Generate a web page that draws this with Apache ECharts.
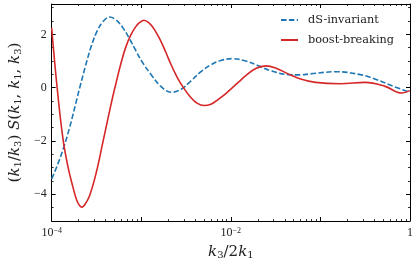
<!DOCTYPE html>
<html><head><meta charset="utf-8">
<script src="https://cdn.jsdelivr.net/npm/echarts@6/dist/echarts.min.js"></script>
<style>html,body{margin:0;padding:0;background:#fff}#c{width:418px;height:267px}</style>
</head><body><div id="c"></div>
<script>
// dS-invariant (blue dashed)
const dsX = [1.0e-4, 1.166e-4, 1.359e-4, 1.585e-4, 1.848e-4, 2.101e-4, 2.387e-4, 2.783e-4, 3.245e-4, 3.783e-4, 4.41e-4,
  5.142e-4, 6.151e-4, 7.356e-4, 8.73e-4, 1.0e-3, 1.29e-3, 1.668e-3, 2.154e-3, 2.783e-3, 3.594e-3, 4.642e-3, 5.995e-3, 7.743e-3,
  1.045e-2, 1.468e-2, 2.047e-2, 2.783e-2, 4.41e-2, 5.995e-2, 7.743e-2, 0.153, 0.278, 0.427, 0.652, 1.0];
const dsY = [-3.42, -2.88, -2.25, -1.5, -0.62, 0.12, 0.82, 1.58, 2.15, 2.5, 2.65,
  2.56, 2.28, 1.85, 1.38, 1.02, 0.49, 0.04, -0.17, -0.06, 0.26, 0.6, 0.86, 1.02,
  1.09, 1.0, 0.82, 0.64, 0.49, 0.48, 0.52, 0.6, 0.49, 0.3, 0.05, -0.17];
// boost-breaking (red solid)
const bbX = [1.0e-4, 1.151e-4, 1.335e-4, 1.517e-4, 1.725e-4, 1.896e-4, 2.047e-4, 2.183e-4, 2.326e-4, 2.643e-4, 3.138e-4,
  3.715e-4, 4.222e-4, 4.798e-4, 5.234e-4, 5.95e-4, 6.761e-4, 7.685e-4, 8.732e-4, 9.624e-4, 1.072e-3, 1.227e-3, 1.394e-3,
  1.668e-3, 1.896e-3, 2.154e-3, 2.512e-3, 2.929e-3, 3.594e-3, 4.19e-3, 5.012e-3, 5.995e-3, 7.168e-3, 8.577e-3, 1.0e-2,
  1.227e-2, 1.468e-2, 1.896e-2, 2.448e-2, 3.162e-2, 4.41e-2, 5.995e-2, 8.799e-2, 0.1668, 0.3162, 0.5275, 0.8087, 1.0];
const bbY = [2.25, 0.0, -1.9, -2.95, -3.72, -4.2, -4.42, -4.48, -4.4, -4.06, -3.2,
  -2.07, -1.2, -0.35, 0.18, 0.93, 1.55, 1.99, 2.3, 2.45, 2.53, 2.42, 2.2,
  1.72, 1.3, 0.86, 0.4, 0.02, -0.38, -0.58, -0.67, -0.62, -0.45, -0.25, -0.05,
  0.22, 0.45, 0.72, 0.82, 0.74, 0.51, 0.33, 0.2, 0.15, 0.2, 0.05, -0.2, -0.11];

const seriesNames = ['dS-invariant', 'boost-breaking'];
const xMajorTicks = [1e-4, 1e-3, 1e-2, 1e-1, 1];
const xMinorTicks = [2e-4, 3e-4, 4e-4, 5e-4, 6e-4, 7e-4, 8e-4, 9e-4,
  2e-3, 3e-3, 4e-3, 5e-3, 6e-3, 7e-3, 8e-3, 9e-3,
  2e-2, 3e-2, 4e-2, 5e-2, 6e-2, 7e-2, 8e-2, 9e-2,
  0.2, 0.3, 0.4, 0.5, 0.6, 0.7, 0.8, 0.9];
const xLabelValues = [1e-4, 1e-2, 1];
const xLabelTexts = ['10{s|−4}', '10{s|−2}', '1'];
const yLabelValues = [-4, -2, 0, 2];
const yLabelTexts = ['−4', '−2', '0', '2'];

const FONT = 'DejaVu Serif';
const NUMFONT = 'Liberation Serif';
const black = '#000';
const TXT = '#222';

function xFmt(v) {
  for (let i = 0; i < xLabelValues.length; i++) {
    if (Math.abs(Math.log10(v) - Math.log10(xLabelValues[i])) < 1e-6) return xLabelTexts[i];
  }
  return '';
}
function yFmt(v) {
  for (let i = 0; i < yLabelValues.length; i++) {
    if (Math.abs(v - yLabelValues[i]) < 1e-9) return yLabelTexts[i];
  }
  return '';
}

const xBase = { type: 'log', logBase: 10, min: 1e-4, max: 1, splitLine: { show: false } };
const yBase = { type: 'value', min: -5, max: 3.14, splitLine: { show: false } };
const frameLine = { show: true, onZero: false, lineStyle: { color: black, width: 1 } };
const noLine = { show: false, onZero: false };

const chart = echarts.init(document.getElementById('c'), null, { renderer: 'canvas' });
chart.setOption({
  animation: false,
  backgroundColor: '#fff',
  grid: { left: 50, right: 8, top: 4, bottom: 46, containLabel: false },
  legend: {
    data: seriesNames, left: 280, top: 13, orient: 'vertical', padding: 0,
    itemWidth: 17, itemHeight: 12, itemGap: 6,
    itemStyle: { opacity: 0 },
    formatter: name => '{t|' + name + '}',
    textStyle: { fontFamily: FONT, fontSize: 11.3, color: TXT, lineHeight: 14,
      rich: { t: { fontFamily: FONT, fontSize: 11.3, color: TXT, lineHeight: 14, padding: [0, 0, 0, 5] } } }
  },
  xAxis: [
    Object.assign({}, xBase, {
      position: 'bottom',
      axisLine: frameLine,
      axisTick: { show: true, inside: true, length: 4, customValues: xMajorTicks, lineStyle: { color: black, width: 1 } },
      axisLabel: {
        show: true, customValues: xLabelValues, formatter: xFmt, margin: 6,
        fontFamily: NUMFONT, fontSize: 12, color: TXT,
        rich: { s: { fontFamily: NUMFONT, fontSize: 8, verticalAlign: 'top', lineHeight: 8, color: TXT } }
      },
      name: '{i|k}{b|3}/2{i|k}{b|1}', nameLocation: 'middle', nameGap: 24,
      nameTextStyle: {
        fontFamily: FONT, fontSize: 15, color: TXT,
        rich: { i: { fontFamily: FONT, fontStyle: 'italic', fontSize: 15, color: TXT },
                b: { fontFamily: FONT, fontSize: 10, verticalAlign: 'bottom', color: TXT } }
      }
    }),
    Object.assign({}, xBase, {
      position: 'bottom',
      axisLine: noLine,
      axisTick: { show: true, inside: true, length: 2, customValues: xMinorTicks, lineStyle: { color: black, width: 0.8 } },
      axisLabel: { show: false }
    }),
    Object.assign({}, xBase, {
      position: 'top',
      axisLine: frameLine,
      axisTick: { show: true, inside: true, length: 4, customValues: xMajorTicks, lineStyle: { color: black, width: 1 } },
      axisLabel: { show: false }
    }),
    Object.assign({}, xBase, {
      position: 'top',
      axisLine: noLine,
      axisTick: { show: true, inside: true, length: 2, customValues: xMinorTicks, lineStyle: { color: black, width: 0.8 } },
      axisLabel: { show: false }
    })
  ],
  yAxis: [
    Object.assign({}, yBase, {
      position: 'left', offset: 0,
      axisLine: frameLine,
      axisTick: { show: true, inside: true, length: 4, customValues: yLabelValues, lineStyle: { color: black, width: 1 } },
      axisLabel: { show: true, customValues: yLabelValues, formatter: yFmt, margin: 5,
        fontFamily: NUMFONT, fontSize: 12, color: TXT },
      name: '({i|k}{b|1}/{i|k}{b|3}) {i|S}({i|k}{b|1}, {i|k}{b|1}, {i|k}{b|3})',
      nameLocation: 'middle', nameGap: 27,
      nameTextStyle: {
        fontFamily: FONT, fontSize: 15, color: TXT,
        rich: { i: { fontFamily: FONT, fontStyle: 'italic', fontSize: 15, color: TXT },
                b: { fontFamily: FONT, fontSize: 10, verticalAlign: 'bottom', color: TXT } }
      }
    }),
    Object.assign({}, yBase, {
      position: 'left', offset: 0, interval: 0.5,
      axisLine: noLine,
      axisTick: { show: true, inside: true, length: 2, lineStyle: { color: black, width: 0.8 } },
      axisLabel: { show: false }
    }),
    Object.assign({}, yBase, {
      position: 'right', offset: 0,
      axisLine: frameLine,
      axisTick: { show: true, inside: true, length: 4, customValues: yLabelValues, lineStyle: { color: black, width: 1 } },
      axisLabel: { show: false }
    }),
    Object.assign({}, yBase, {
      position: 'right', offset: 0, interval: 0.5,
      axisLine: noLine,
      axisTick: { show: true, inside: true, length: 2, lineStyle: { color: black, width: 0.8 } },
      axisLabel: { show: false }
    })
  ],
  series: [
    {
      name: seriesNames[0], type: 'line', xAxisIndex: 0, yAxisIndex: 0,
      data: dsX.map((x, i) => [x, dsY[i]]),
      symbol: 'none', smooth: 0.4, z: 3,
      lineStyle: { color: '#1f77b4', width: 1.6, type: [5.5, 2.4] },
      itemStyle: { color: '#1f77b4' }
    },
    {
      name: seriesNames[1], type: 'line', xAxisIndex: 0, yAxisIndex: 0,
      data: bbX.map((x, i) => [x, bbY[i]]),
      symbol: 'none', smooth: 0.4, z: 4,
      lineStyle: { color: '#d62728', width: 1.6, type: 'solid' },
      itemStyle: { color: '#d62728' }
    }
  ]
});
</script>
</body></html>
